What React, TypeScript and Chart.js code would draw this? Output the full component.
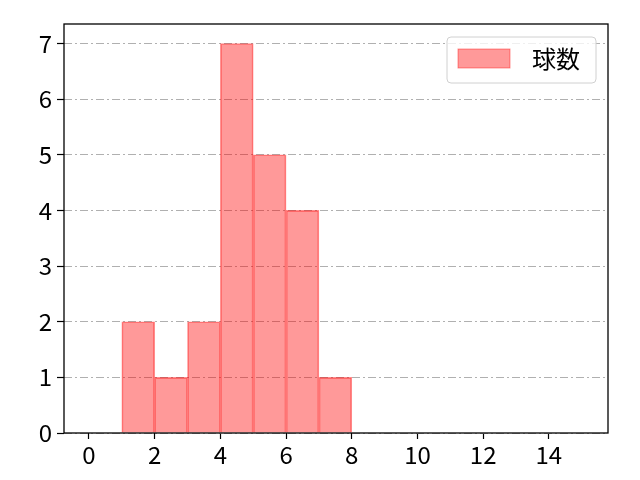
import { useRef, useEffect } from 'react';
import { Chart, registerables } from 'chart.js';

Chart.register(...registerables);

// histogram bins (left edges) and counts
const binEdges = [1, 2, 3, 4, 5, 6, 7, 8];
const counts = [2, 1, 2, 7, 5, 4, 1];
const xTicks = [0, 2, 4, 6, 8, 10, 12, 14];
const yTicks = [0, 1, 2, 3, 4, 5, 6, 7];
const seriesLabel = '球数';

const FONT = '"Noto Sans CJK JP", "Noto Sans", sans-serif';

// draws the full spine box and the matplotlib-style legend
const framePlugin = {
  id: 'frame',
  afterDraw(chart: Chart) {
    const { ctx, chartArea } = chart;
    const { left, top, right, bottom } = chartArea;
    ctx.save();
    ctx.strokeStyle = '#000';
    ctx.lineWidth = 1.3;
    ctx.strokeRect(left, top, right - left, bottom - top);

    // legend box
    const lx = right - 161;
    const ly = top + 13;
    const lw = 149;
    const lh = 46;
    ctx.beginPath();
    ctx.roundRect(lx, ly, lw, lh, 4);
    ctx.fillStyle = 'rgba(255,255,255,0.8)';
    ctx.fill();
    ctx.strokeStyle = '#d0d0d0';
    ctx.lineWidth = 1;
    ctx.stroke();

    ctx.fillStyle = 'rgba(255,0,0,0.4)';
    ctx.fillRect(lx + 11, ly + 12, 52, 19);
    ctx.strokeStyle = 'rgba(255,0,0,0.4)';
    ctx.strokeRect(lx + 11, ly + 12, 52, 19);

    ctx.fillStyle = '#000';
    ctx.font = `24px ${FONT}`;
    ctx.textBaseline = 'middle';
    ctx.textAlign = 'left';
    ctx.fillText(seriesLabel, lx + 85, ly + 22);
    ctx.restore();
  },
};

export default function App() {
  const chartRef = useRef<HTMLCanvasElement>(null);
  const chartInstance = useRef<Chart | null>(null);

  useEffect(() => {
    if (!chartRef.current) return;
    if (chartInstance.current) chartInstance.current.destroy();
    const ctx = chartRef.current.getContext('2d');
    if (!ctx) return;

    const data = counts.map((c, i) => ({ x: binEdges[i] + 0.5, y: c }));

    chartInstance.current = new Chart(ctx, {
      type: 'bar',
      data: {
        datasets: [
          {
            label: seriesLabel,
            data,
            backgroundColor: 'rgba(255,0,0,0.4)',
            borderColor: 'rgba(255,0,0,0.45)',
            borderWidth: 1,
            barPercentage: 1,
            categoryPercentage: 1,
          },
        ],
      },
      options: {
        animation: false,
        responsive: false,
        maintainAspectRatio: false,
        layout: { padding: { top: 24, right: 32, left: 0, bottom: 0 } },
        plugins: {
          legend: { display: false },
          tooltip: { enabled: false },
        },
        scales: {
          x: {
            type: 'linear',
            offset: false,
            min: -0.76,
            max: 15.8,
            afterBuildTicks: (axis) => {
              axis.ticks = xTicks.map((v) => ({ value: v }));
            },
            afterFit: (axis) => {
              axis.height = 47;
            },
            grid: {
              offset: false,
              drawOnChartArea: false,
              tickLength: 6,
              tickColor: '#000',
              tickWidth: 1.2,
            },
            border: { display: false },
            ticks: {
              color: '#000',
              font: { family: FONT, size: 24 },
              padding: 1,
              maxRotation: 0,
            },
          },
          y: {
            min: 0,
            max: 7.35,
            afterBuildTicks: (axis) => {
              axis.ticks = yTicks.map((v) => ({ value: v }));
            },
            afterFit: (axis) => {
              axis.width = 64;
            },
            grid: {
              color: '#b0b0b0',
              lineWidth: 1,
              tickBorderDash: [],
              tickLength: 7,
              tickColor: '#000',
              tickWidth: 1.2,
            },
            border: { display: false, dash: [8, 3, 2, 3] },
            ticks: {
              color: '#000',
              font: { family: FONT, size: 24 },
              padding: 5,
            },
          },
        },
      },
      plugins: [framePlugin],
    });

    return () => {
      if (chartInstance.current) {
        chartInstance.current.destroy();
        chartInstance.current = null;
      }
    };
  }, []);

  return (
    <div style={{ position: 'fixed', left: 0, top: 0, width: 640, height: 480, background: '#fff' }}>
      <canvas ref={chartRef} width={640} height={480} style={{ width: 640, height: 480 }} />
    </div>
  );
}
